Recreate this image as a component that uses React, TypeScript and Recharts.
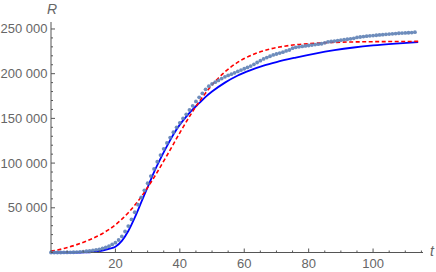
import React from "react";
import { ComposedChart, Scatter, Line, XAxis, YAxis } from "recharts";

// observed cumulative R, one value per day starting at t = 0
const observed: number[] = [
  0, 0, 0, 0, 100, 100, 200, 300, 500, 700,
  1000, 1400, 1800, 2300, 3000, 3600, 4500, 5600, 7000, 9000,
  11000, 14000, 18000, 23500, 29500, 37000, 45000, 53500, 61500, 69500,
  77500, 85500, 93500, 101500, 109000, 116000, 122500, 128500, 134500, 140000,
  145000, 150000, 154500, 159500, 164000, 169000, 173500, 178000, 182500, 186000,
  188500, 190500, 192500, 194500, 196500, 198000, 199500, 201000, 202500, 204000,
  205500, 207000, 208500, 210500, 212500, 214500, 216500, 218000, 219500, 221000,
  222000, 223000, 224000, 225500, 226500, 228500, 229500, 230000, 230500, 231000,
  231500, 232000, 232500, 233000, 233500, 234500, 235500, 236000, 236500, 237000,
  237500, 238000, 238500, 239000, 239500, 240500, 241000, 241500, 242000, 242300,
  242600, 243000, 243300, 243600, 244000, 244300, 244600, 244900, 245200, 245400,
  245600, 245800, 246000, 246400,
];

// first model (solid blue)
const fitT: number[] = [0, 4, 8, 10, 12, 14, 16, 18, 20, 22, 24, 26, 28, 30, 32, 34, 36, 38, 40, 42, 44, 46, 48, 50, 54, 58, 62, 66, 70, 76, 82, 88, 94, 100, 107, 114];
const fitR: number[] = [0, 0, 0, 50, 300, 900, 2000, 4000, 6500, 13000, 24000, 39000, 56000, 73000, 90000, 105000, 119000, 132000, 143000, 152000, 160000, 167000, 174000, 180000, 190000, 198000, 204000, 209000, 213000, 218000, 222500, 226300, 229300, 231600, 233600, 235200];

// second model (dashed red)
const logT: number[] = [0, 4, 8, 12, 16, 20, 24, 28, 32, 36, 40, 44, 48, 52, 56, 60, 64, 68, 72, 76, 80, 88, 96, 104, 114];
const logR: number[] = [1500, 4500, 8800, 14300, 21300, 31000, 44500, 62300, 84000, 108500, 133900, 157800, 178500, 195200, 207800, 216900, 223200, 227600, 230400, 232400, 233600, 235000, 235600, 235900, 236100];

const xTicks: number[] = [0, 5, 10, 15, 20, 25, 30, 35, 40, 45, 50, 55, 60, 65, 70, 75, 80, 85, 90, 95, 100, 105, 110, 115];
const yTicks: number[] = [0, 10000, 20000, 30000, 40000, 50000, 60000, 70000, 80000, 90000, 100000, 110000, 120000, 130000, 140000, 150000, 160000, 170000, 180000, 190000, 200000, 210000, 220000, 230000, 240000, 250000];

const obsData = observed.map((R, t) => ({ t, R }));
const fitData = fitT.map((t, i) => ({ t, R: fitR[i] }));
const logData = logT.map((t, i) => ({ t, R: logR[i] }));

const axisColor = "#555";
const labelStyle = { fontFamily: "Liberation Sans, Arial, sans-serif", fontSize: 13, fill: "#666" };

const fmt = (v: number) => {
  const s = String(v);
  return s.length > 3 ? s.slice(0, -3) + " " + s.slice(-3) : s;
};

const XTick = (props: any) => {
  const { x, y, payload } = props;
  const major = payload.value % 20 === 0 && payload.value > 0;
  return (
    <g>
      <line x1={x} x2={x} y1={y} y2={y - (major ? 4 : 2)} stroke={axisColor} />
      {major && (
        <text x={x} y={y + 15} textAnchor="middle" {...labelStyle}>
          {payload.value}
        </text>
      )}
    </g>
  );
};

const YTick = (props: any) => {
  const { x, y, payload } = props;
  const major = payload.value % 50000 === 0 && payload.value > 0;
  return (
    <g>
      <line x1={x} x2={x + (major ? 4 : 2)} y1={y} y2={y} stroke={axisColor} />
      {major && (
        <text x={x - 3.5} y={y + 4.5} textAnchor="end" {...labelStyle}>
          {fmt(payload.value)}
        </text>
      )}
    </g>
  );
};

const Dot = (p: any) => <circle cx={p.cx} cy={p.cy} r={1.9} fill="#5E81B5" fillOpacity={0.9} />;

const italic: React.CSSProperties = {
  position: "absolute",
  fontFamily: "Liberation Sans, Arial, sans-serif",
  fontStyle: "italic",
  fontSize: 14,
  color: "#666",
  lineHeight: "14px",
};

export default function App() {
  return (
    <div style={{ position: "absolute", left: 0, top: 0, width: 436, height: 272, background: "#fff" }}>
      <ComposedChart width={436} height={272} margin={{ top: 22, right: 13, left: 0, bottom: 0 }}>
        <XAxis
          dataKey="t"
          type="number"
          domain={[0, 115.5]}
          ticks={xTicks}
          interval={0}
          tickSize={0}
          tickMargin={0}
          tickLine={false}
          tick={<XTick />}
          height={19.5}
          axisLine={{ stroke: axisColor }}
        />
        <YAxis
          dataKey="R"
          type="number"
          domain={[0, 257800]}
          ticks={yTicks}
          interval={0}
          tickSize={0}
          tickMargin={0}
          tickLine={false}
          tick={<YTick />}
          width={51}
          axisLine={{ stroke: axisColor }}
        />
        <Scatter data={obsData} dataKey="R" shape={Dot} isAnimationActive={false} />
        <Line data={fitData} dataKey="R" type="monotone" stroke="#0000FF" strokeWidth={1.8} dot={false} isAnimationActive={false} />
        <Line data={logData} dataKey="R" type="monotone" stroke="#FF0000" strokeWidth={1.6} strokeDasharray="4 2.5" dot={false} isAnimationActive={false} />
      </ComposedChart>
      <span style={{ ...italic, left: 47, top: 2 }}>R</span>
      <span style={{ ...italic, left: 430, top: 244 }}>t</span>
    </div>
  );
}
